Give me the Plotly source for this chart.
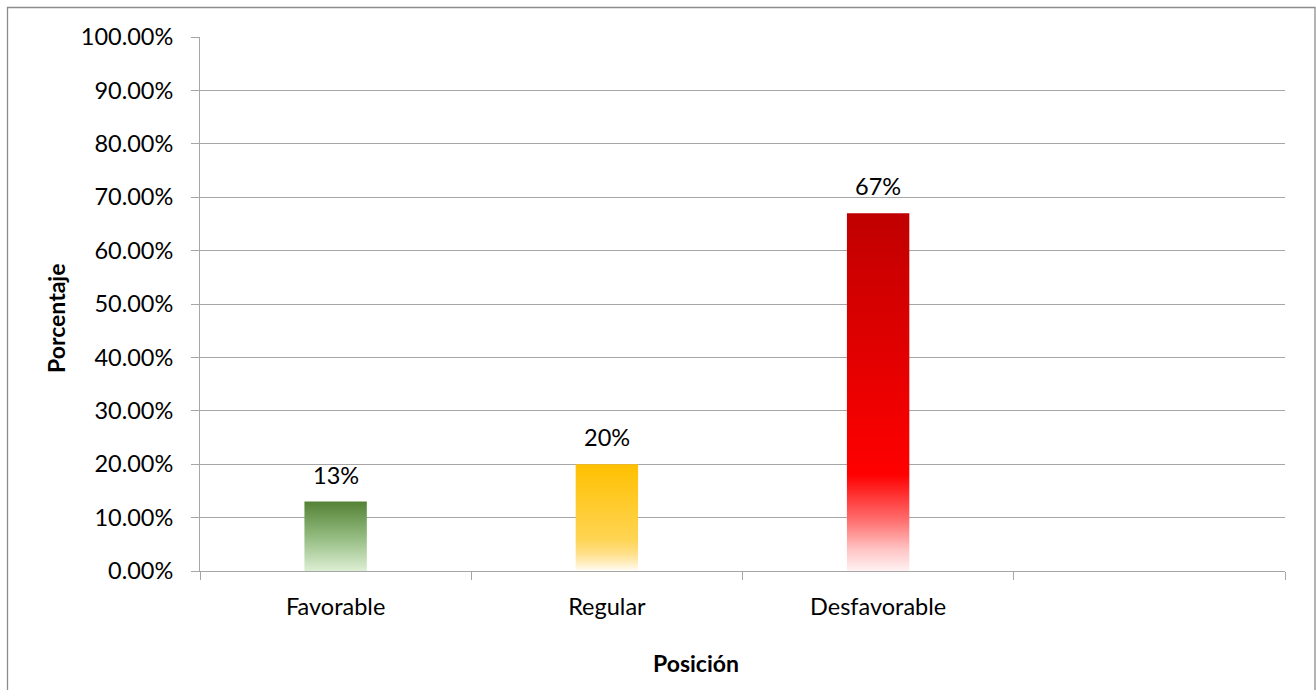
import plotly.graph_objects as go

# Survey result by position
categories = ["Favorable", "Regular", "Desfavorable"]
values = [0.13, 0.20, 0.67]
n_slots = 4  # category slots on the x axis (last one left empty)

# vertical gradients, 0 = bottom of the bar, 1 = top
gradients = [
    [[0.0, "#dceed3"], [0.5, "#92ba7e"], [1.0, "#548235"]],
    [[0.0, "#fffdf8"], [0.07, "#ffeec2"], [0.16, "#ffe08a"], [0.3, "#ffd452"], [1.0, "#ffc000"]],
    [[0.0, "#fff2f2"], [0.06, "#ffc4c4"], [0.14, "#ff7070"], [0.27, "#ff0000"], [1.0, "#c00000"]],
]

FONT = "Lato"
FS = 23.5
GRID = "#a6a6a6"
W, H = 1316, 690
ML, MR, MT, MB = 200, 31, 37, 119
PW, PH = W - ML - MR, H - MT - MB
bar_w = 0.23


def px_x(px):
    return (px - ML) / PW


def px_y(py):
    return 1 - (py - MT) / PH


fig = go.Figure()

for i, (v, cs) in enumerate(zip(values, gradients)):
    x0, x1 = i - bar_w / 2, i + bar_w / 2
    fig.add_trace(go.Scatter(
        x=[x0, x1, x1, x0, x0],
        y=[0, 0, v, v, 0],
        mode="none",
        fill="toself",
        fillgradient=dict(type="vertical", colorscale=cs),
        hoverinfo="skip",
        showlegend=False,
    ))

annotations = []
for i, v in enumerate(values):
    annotations.append(dict(
        x=i, y=v, xref="x", yref="y", text=f"{v:.0%}", showarrow=False,
        yanchor="middle", yshift=27, font=dict(family=FONT, size=FS, color="#000"),
    ))

annotations.append(dict(
    x=px_x(56), y=px_y(318), xref="paper", yref="paper", text="<b>Porcentaje</b>",
    textangle=-90, showarrow=False, xanchor="center", yanchor="middle",
    font=dict(family=FONT, size=23, color="#000"),
))
annotations.append(dict(
    x=px_x(696), y=px_y(663), xref="paper", yref="paper", text="<b>Posición</b>",
    showarrow=False, xanchor="center", yanchor="middle",
    font=dict(family=FONT, size=23, color="#000"),
))

fig.update_layout(
    width=W, height=H,
    margin=dict(l=ML, r=MR, t=MT, b=MB),
    paper_bgcolor="white", plot_bgcolor="white",
    font=dict(family=FONT, size=FS, color="#000"),
    annotations=annotations,
    shapes=[dict(
        type="rect", xref="paper", yref="paper",
        x0=px_x(7.5), x1=px_x(1315), y0=px_y(720), y1=px_y(7.5),
        line=dict(color="#8c8c8c", width=1.3), fillcolor="rgba(0,0,0,0)", layer="below",
    )],
    xaxis=dict(
        range=[-0.5, n_slots - 0.5],
        tickmode="array", tickvals=list(range(len(categories))), ticktext=categories,
        ticks="", showgrid=False, zeroline=False,
        showline=True, linecolor=GRID, linewidth=1,
        ticklabelstandoff=15,
        minor=dict(
            tickmode="array", tickvals=[k - 0.5 for k in range(n_slots + 1)],
            ticks="outside", ticklen=8, tickcolor=GRID, tickwidth=1, showgrid=False,
        ),
        fixedrange=True,
    ),
    yaxis=dict(
        range=[0, 1], tickmode="linear", tick0=0, dtick=0.1, tickformat=".2%",
        showgrid=True, gridcolor=GRID, gridwidth=1, zeroline=False,
        showline=True, linecolor=GRID, linewidth=1,
        ticks="outside", ticklen=8, tickcolor=GRID,
        ticklabelstandoff=13,
        fixedrange=True,
    ),
)

fig.write_html("out.html")
